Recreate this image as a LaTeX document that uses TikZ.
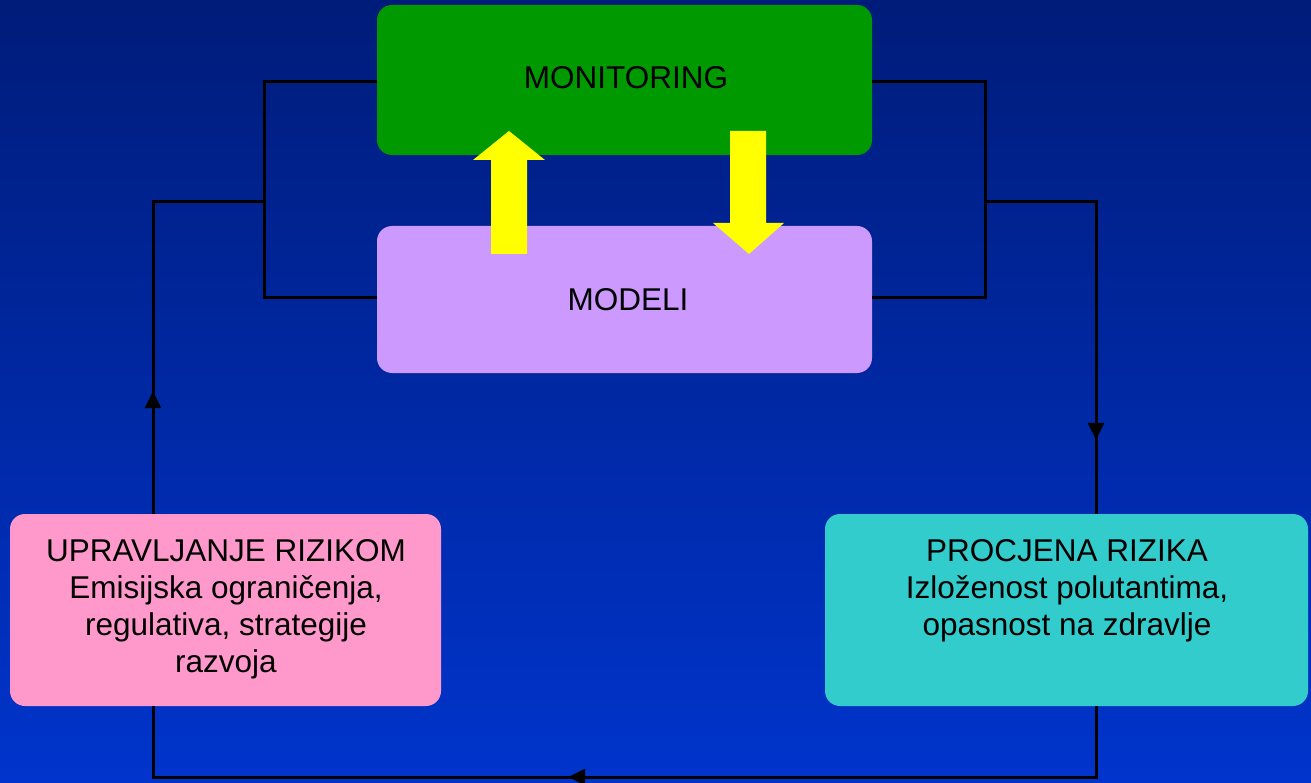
\documentclass[tikz,border=0pt]{standalone}
\usepackage{fontspec}
\setmainfont{Liberation Sans}
\usetikzlibrary{arrows.meta,decorations.markings}
\definecolor{bgtop}{RGB}{0,28,122}
\definecolor{bgbot}{RGB}{0,52,204}
\definecolor{mongreen}{RGB}{0,153,0}
\definecolor{modlav}{RGB}{204,153,255}
\definecolor{upink}{RGB}{255,153,204}
\definecolor{pteal}{RGB}{51,204,204}
\definecolor{arryel}{RGB}{255,255,0}
\tikzset{
  box/.style={rounded corners=15pt, draw=none, inner sep=0pt},
  txt/.style={font=\fontsize{31.5}{37}\selectfont, align=center, text=black, inner sep=0pt},
  wire/.style={line width=3pt, black},
  markat/.style={postaction={decorate}, decoration={markings, mark=at position #1 with {\arrow{Triangle[length=17pt,width=16pt]}}}},
  bigarrow/.style={fill=arryel, draw=none},
}
\begin{document}
\begin{tikzpicture}[x=1pt,y=-1pt]
\useasboundingbox (0,0) rectangle (1311,783);
\shade[top color=bgtop, bottom color=bgbot] (0,0) rectangle (1311,783);

% boxes
\node[box, fill=mongreen, minimum width=495pt, minimum height=150pt] (mon) at (624.5,80) {};
\node[box, fill=modlav, minimum width=495pt, minimum height=147pt] (mod) at (624.5,299.5) {};
\node[box, fill=upink, minimum width=431pt, minimum height=192pt] (upr) at (225.5,610) {};
\node[box, fill=pteal, minimum width=483pt, minimum height=192pt] (pro) at (1066.5,610) {};

% texts
\node[txt] (tmon) at (626,78) {MONITORING};
\node[txt] (tmod) at (628,300) {MODELI};
\node[txt] (tupr) at (226,609.5) {UPRAVLJANJE RIZIKOM\\Emisijska ograničenja,\\regulativa, strategije\\razvoja};
\node[txt] (tpro) at (1067,590.5) {PROCJENA RIZIKA\\Izloženost polutantima,\\opasnost na zdravlje};

% junctions
\coordinate (jl) at (264,202);
\coordinate (jr) at (985,202);
\coordinate (xl) at (153,0);
\coordinate (xr) at (1096,0);
\coordinate (bot) at (0,777);

% left bracket
\draw[wire] (mon.west |- 0,82) -| (jl) |- (mod.west |- 0,298);
% right bracket
\draw[wire] (mon.east |- 0,82) -| (jr) |- (mod.east |- 0,298);

% management -> junction (up)
\draw[wire, markat=0.29] (upr.north -| xl) |- (jl);
% junction -> assessment (down)
\draw[wire, markat=0.825] (jr) -| (pro.north -| xr);
% assessment -> management (bottom, leftwards)
\draw[wire, markat=0.552] (pro.south -| xr) -- (xr |- bot) -- (xl |- bot) -- (upr.south -| xl);

% yellow block arrows
\fill[bigarrow] (491,254) -- (491,160) -- (473,160) -- (509,131) -- (545,160) -- (527,160) -- (527,254) -- cycle;
\fill[bigarrow] (730,131) -- (766,131) -- (766,223) -- (784,223) -- (749,254) -- (713,223) -- (730,223) -- cycle;
\end{tikzpicture}
\end{document}
